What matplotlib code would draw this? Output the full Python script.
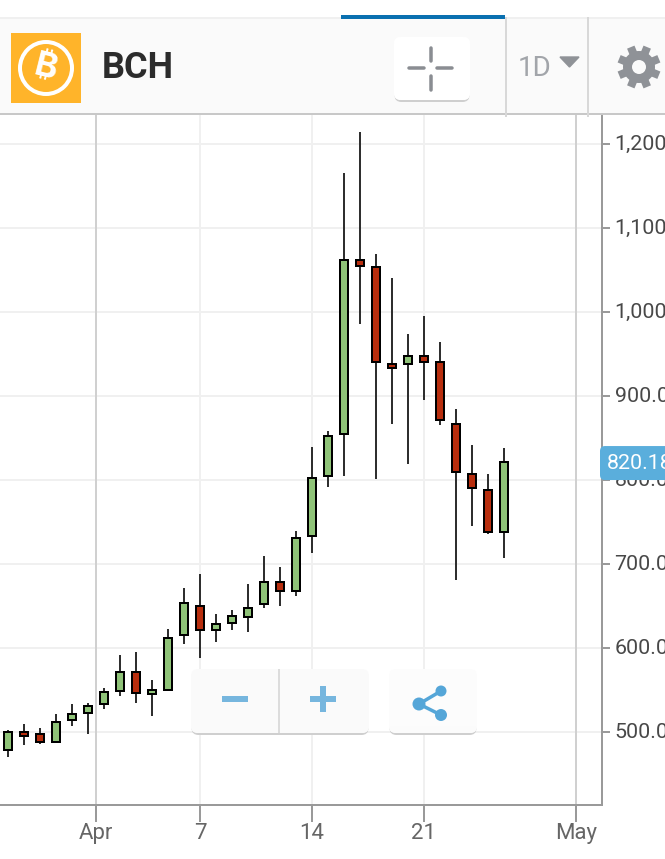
import matplotlib
matplotlib.use("Agg")
import matplotlib.pyplot as plt
import numpy as np
from matplotlib.patches import Rectangle, FancyBboxPatch, Circle
from matplotlib.transforms import ScaledTranslation

plt.rcParams['font.family'] = ['Roboto', 'DejaVu Sans']

# candle centres in days after 1 April (31 March candle sits left of the Apr tick)
days = [d + 0.5 for d in range(-6, 26)]
highs = [502, 510, 505, 521, 533, 535, 552, 592, 595, 562, 623, 671, 688, 640, 645, 676,
         709, 697, 739, 839, 858, 1166, 1214, 1069, 1040, 974, 995, 964, 885, 842, 807, 838]
lows = [470, 484, 486, 488, 507, 498, 527, 543, 534, 519, 550, 605, 588, 607, 622, 619,
        648, 650, 662, 713, 792, 805, 986, 801, 867, 819, 895, 865, 681, 745, 736, 707]
tops = [500, 500, 498, 512, 522, 531, 548, 572, 572, 550, 612, 653, 650, 629, 638, 648,
        679, 679, 731, 802, 852, 1062, 1062, 1053, 938, 948, 948, 941, 867, 807, 788, 822]
bottoms = [479, 495, 488, 488, 514, 523, 533, 549, 547, 545, 550, 616, 621, 621, 630, 637,
           652, 668, 668, 733, 805, 855, 1055, 940, 933, 938, 940, 871, 809, 790, 738, 738]
up = [1, 0, 0, 1, 1, 1, 1, 1, 0, 1, 1, 1, 0, 1, 1, 1,
      1, 0, 1, 1, 1, 1, 0, 0, 0, 1, 0, 0, 0, 0, 0, 1]

price_ticks = [500, 600, 700, 800, 900, 1000, 1100, 1200]
price_labels = ["500.00", "600.00", "700.00", "800.00", "900.00", "1,000.00", "1,100.00", "1,200.00"]
date_ticks = [0, 6.5, 13.5, 20.5, 30]
date_labels = ["Apr", "7", "14", "21", "May"]
major_dates = [0, 30]
last_price = 820.18

W, H = 665, 859
PX = 0.72  # points per pixel at dpi 100
GREEN, RED = "#8fc378", "#b82e0e"

fig = plt.figure(figsize=(W / 100, H / 100), dpi=100, facecolor="white")
ax = fig.add_axes([0, (H - 805) / H, 602 / W, (805 - 114) / H])
ax.set_xlim(-6, 31.625)
ax.set_ylim(413.1, 1235.7)
ax.set_axisbelow(True)

for s in ("left", "top"):
    ax.spines[s].set_visible(False)
for s in ("right", "bottom"):
    ax.spines[s].set_color("#9a9a9a")
    ax.spines[s].set_linewidth(2 * PX)

ax.yaxis.tick_right()
ax.set_yticks(price_ticks, price_labels)
ax.set_xticks(date_ticks, date_labels)
ax.tick_params(axis="y", length=6, width=2 * PX, color="#9a9a9a", labelcolor="#484848",
               labelsize=15.4, pad=3)
ax.tick_params(axis="x", length=12, width=2 * PX, color="#9a9a9a", labelcolor="#666666",
               labelsize=16, pad=1)
for t in ax.get_yticklabels():
    t.set_transform(t.get_transform() + ScaledTranslation(0, 1.5 / 100, fig.dpi_scale_trans))
ax.grid(True, color="#f0f0f0", linewidth=2 * PX)
for d in major_dates:
    ax.axvline(d, color="#d0d0d0", linewidth=2 * PX, zorder=1)

ax.vlines(days, lows, highs, color="#2f2f2f", linewidth=2 * PX, zorder=2)
ax.bar(days, [t - b for t, b in zip(tops, bottoms)], bottom=bottoms, width=0.5,
       color=[GREEN if u else RED for u in up], edgecolor="black", linewidth=2 * PX, zorder=3)

# page furniture, drawn in pixel coordinates
ov = fig.add_axes([0, 0, 1, 1], zorder=5)
ov.set_xlim(0, W)
ov.set_ylim(H, 0)
ov.axis("off")
ov.patch.set_alpha(0)


def rect(x, y, w, h, c, **kw):
    ov.add_patch(Rectangle((x, y), w, h, facecolor=c, edgecolor="none", **kw))


def button(x, y, w, h, c="#ffffff", alpha=1.0):
    shadow = FancyBboxPatch((x + 0.5, y + 2), w - 1, h, boxstyle="round,pad=0,rounding_size=7",
                            facecolor="#cfcfcf", edgecolor="none")
    ov.add_patch(shadow)
    shadow.set_clip_path(Rectangle((x - 3, y + h - 7), w + 6, 12, transform=ov.transData))
    ov.add_patch(FancyBboxPatch((x, y), w, h, boxstyle="round,pad=0,rounding_size=7",
                                facecolor="white", edgecolor="none", alpha=alpha))
    ov.add_patch(FancyBboxPatch((x, y), w, h, boxstyle="round,pad=0,rounding_size=7",
                                facecolor=c, edgecolor="none", alpha=alpha))


# header
rect(0, 17, W, 96, "#fafafa")
rect(0, 17, W, 2, "#f0f0f0")
rect(0, 113, W, 2, "#c8c8c8")
rect(341, 15, 164, 4, "#0a70b0")
rect(505, 17, 1.5, 100, "#d8d8d8")
rect(587, 17, 1.5, 100, "#d8d8d8")

# logo
rect(11, 33, 70, 70, "#ffb42a")
ov.add_patch(Circle((46, 68), 26, facecolor="none", edgecolor="white", linewidth=4 * PX))
ov.text(46, 68, "\u20bf", color="white", fontsize=25, fontweight="bold", ha="center",
        va="center", rotation=-14, family=["Inter", "Noto Sans", "DejaVu Sans"])
ov.text(102, 68, "BCH", color="#2b2b2b", fontsize=26, fontweight="bold", ha="left", va="center")

# crosshair button
button(394, 37, 76, 63)
for x0, y0, x1, y1 in [(431, 48, 431, 61), (431, 76, 431, 90), (409, 68, 424, 68), (437, 68, 452, 68)]:
    ov.plot([x0, x1], [y0, y1], color="#8a8d92", linewidth=3.5 * PX, solid_capstyle="round")

# interval and settings
ov.text(518, 68, "1D", color="#a2a5aa", fontsize=20, ha="left", va="center")
ov.fill([560, 579, 569.5], [57, 57, 67], color="#8f9297")
for ang in np.arange(8) * np.pi / 4 + np.pi / 8:
    ov.plot([639, 639 + 21.5 * np.cos(ang)], [67, 67 + 21.5 * np.sin(ang)],
            color="#8f9297", linewidth=8 * PX, solid_capstyle="butt")
ov.add_patch(Circle((639, 67), 16, facecolor="#8f9297", edgecolor="none", zorder=4))
ov.add_patch(Circle((639, 67), 7, facecolor="#fafafa", edgecolor="none", zorder=4))

# zoom buttons
button(191, 669, 178, 64, "#fafafa", 0.93)
rect(278, 669, 1.5, 64, "#dcdcdc")
rect(222, 696, 26, 6, "#76b6de")
rect(310, 696, 26, 6, "#76b6de")
rect(320, 686, 6, 26, "#76b6de")

# share button
button(389, 669, 88, 64, "#fcfcfc", 0.93)
pts = [(441, 691), (419, 704), (441, 715)]
ov.plot([p[0] for p in pts], [p[1] for p in pts], color="#55a6d8", linewidth=3.5 * PX, zorder=6)
for (cx, cy), r in zip(pts, (5.5, 6.5, 6)):
    ov.add_patch(Circle((cx, cy), r, facecolor="#55a6d8", edgecolor="none", zorder=7))

# last price tag, placed on the price scale
lp_y = 732 - (last_price - 500) * 0.84
ov.add_patch(FancyBboxPatch((600, lp_y - 17), 80, 34, boxstyle="round,pad=0,rounding_size=5",
                            facecolor="#5aaedc", edgecolor="none"))
ov.text(607, lp_y, f"{last_price:.2f}", color="white", fontsize=15.4, ha="left", va="center")

fig.savefig("out.png", dpi=100)
